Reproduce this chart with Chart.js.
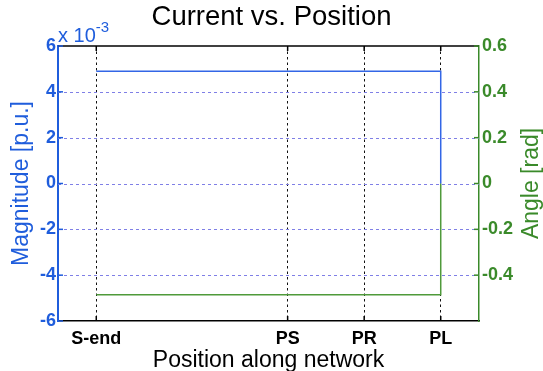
<!DOCTYPE html>
<html>
<head>
<meta charset="utf-8">
<script src="https://cdn.jsdelivr.net/npm/chart.js@4/dist/chart.umd.min.js"></script>
<style>
  html, body { margin: 0; padding: 0; background: #fff; }
  canvas { display: block; }
</style>
</head>
<body>
<canvas id="c" width="543" height="371"></canvas>
<script>
// Positions along the network and their tick labels
const positionNames = ['S-end', 'PS', 'PR', 'PL'];
const positionValues = [0, 2.5, 3.5, 4.5];

// Current magnitude (x 10^-3 p.u.) and angle (rad) at each position
const magnitude = [4.9, 4.9, 4.9, 4.9];
const angle = [-0.485, -0.485, -0.485, -0.485];
// Values just past the load end
const magnitudeBeyond = 0;
const angleBeyond = 0;

// Axis tick values
const magnitudeTicks = [6, 4, 2, 0, -2, -4, -6];
const angleTicks = [0.6, 0.4, 0.2, 0, -0.2, -0.4];

const BLUE = '#1f5ddc';
const GREEN = '#3a8a2a';
const LINE_BLUE = '#3366e6';
const LINE_GREEN = '#4f9a3a';
const GRID_BLUE = '#7f7fe6';
const FONT = '"Liberation Sans", Arial, Helvetica, sans-serif';

Chart.defaults.font.family = FONT;

function stepSeries(values, beyond) {
  const pts = positionValues.map((x, i) => ({ x: x, y: values[i] }));
  pts.push({ x: positionValues[positionValues.length - 1], y: beyond });
  return pts;
}

const tickFont = { size: 18, weight: 'bold' };

// Horizontal dashed grid from the magnitude axis ticks
const hGridPlugin = {
  id: 'hgrid',
  beforeDatasetsDraw(chart) {
    const { ctx, chartArea: a, scales } = chart;
    ctx.save();
    ctx.strokeStyle = GRID_BLUE;
    ctx.lineWidth = 1;
    ctx.setLineDash([3, 3]);
    scales.y.ticks.forEach(t => {
      if (t.value <= scales.y.min || t.value >= scales.y.max) return;
      const py = Math.round(scales.y.getPixelForValue(t.value)) + 0.5;
      ctx.beginPath();
      ctx.moveTo(a.left, py);
      ctx.lineTo(a.right, py);
      ctx.stroke();
    });
    ctx.restore();
  }
};

// Inner tick marks, top frame line, exponent note and right axis title
const framePlugin = {
  id: 'frame',
  afterDatasetsDraw(chart) {
    const { ctx, chartArea: a, scales } = chart;
    ctx.save();
    // top frame
    ctx.strokeStyle = '#000';
    ctx.lineWidth = 1.5;
    ctx.beginPath();
    ctx.moveTo(a.left, a.top);
    ctx.lineTo(a.right, a.top);
    ctx.stroke();
    // x tick marks, top and bottom
    scales.x.ticks.forEach(t => {
      const px = scales.x.getPixelForValue(t.value);
      ctx.beginPath();
      ctx.moveTo(px, a.top); ctx.lineTo(px, a.top + 5);
      ctx.moveTo(px, a.bottom); ctx.lineTo(px, a.bottom - 5);
      ctx.stroke();
    });
    // left ticks
    ctx.strokeStyle = BLUE;
    scales.y.ticks.forEach(t => {
      const py = scales.y.getPixelForValue(t.value);
      ctx.beginPath();
      ctx.moveTo(a.left, py); ctx.lineTo(a.left + 5, py);
      ctx.stroke();
    });
    // right ticks
    ctx.strokeStyle = GREEN;
    scales.y1.ticks.forEach(t => {
      const py = scales.y1.getPixelForValue(t.value);
      ctx.beginPath();
      ctx.moveTo(a.right, py); ctx.lineTo(a.right - 5, py);
      ctx.stroke();
    });
    // exponent note above the left axis
    ctx.fillStyle = BLUE;
    ctx.textBaseline = 'alphabetic';
    ctx.textAlign = 'left';
    ctx.font = '20px ' + FONT;
    const base = 'x 10';
    ctx.fillText(base, a.left, a.top - 4);
    const w = ctx.measureText(base).width;
    ctx.font = '15px ' + FONT;
    ctx.fillText('-3', a.left + w, a.top - 14);
    // right axis title, reading upwards
    ctx.fillStyle = GREEN;
    ctx.font = '23px ' + FONT;
    ctx.textAlign = 'center';
    ctx.textBaseline = 'middle';
    ctx.translate(chart.width - 11.5, (a.top + a.bottom) / 2);
    ctx.rotate(-Math.PI / 2);
    ctx.fillText('Angle [rad]', 0, 0);
    ctx.restore();
  }
};

new Chart(document.getElementById('c'), {
  type: 'line',
  data: {
    datasets: [
      {
        label: 'Magnitude',
        data: stepSeries(magnitude, magnitudeBeyond),
        yAxisID: 'y',
        borderColor: LINE_BLUE,
        borderWidth: 1.5,
        pointRadius: 0,
        fill: false,
        tension: 0
      },
      {
        label: 'Angle',
        data: stepSeries(angle, angleBeyond),
        yAxisID: 'y1',
        borderColor: LINE_GREEN,
        borderWidth: 1.5,
        pointRadius: 0,
        fill: false,
        tension: 0
      }
    ]
  },
  options: {
    responsive: false,
    animation: false,
    devicePixelRatio: 1,
    layout: { padding: 0 },
    plugins: {
      legend: { display: false },
      tooltip: { enabled: false },
      title: {
        display: true,
        text: 'Current vs. Position',
        color: '#000',
        font: { size: 27.5, weight: 'normal', lineHeight: 1.2 },
        padding: { top: 1, bottom: 12 }
      }
    },
    scales: {
      x: {
        type: 'linear',
        min: -0.5,
        max: 5,
        afterBuildTicks: s => { s.ticks = positionValues.map(v => ({ value: v })); },
        afterFit: s => { s.height = 50; },
        ticks: {
          autoSkip: false,
          maxRotation: 0,
          color: '#000',
          font: tickFont,
          padding: 7,
          callback: (v, i) => positionNames[i]
        },
        grid: { color: '#111', lineWidth: 1, drawTicks: false },
        border: { display: true, color: '#000', width: 1.5, dash: [2.5, 3] },
        title: {
          display: true,
          text: 'Position along network',
          color: '#000',
          font: { size: 23, lineHeight: 0.9 },
          padding: 0
        }
      },
      y: {
        position: 'left',
        min: -6,
        max: 6,
        afterBuildTicks: s => { s.ticks = magnitudeTicks.map(v => ({ value: v })); },
        afterFit: s => { s.width = 58; },
        ticks: { color: BLUE, font: tickFont, padding: 2, callback: v => String(v) },
        grid: { drawOnChartArea: false, drawTicks: false },
        border: { display: true, color: BLUE, width: 2 },
        title: {
          display: true,
          text: 'Magnitude [p.u.]',
          color: BLUE,
          font: { size: 23, lineHeight: 1 },
          padding: { top: 10, bottom: 0 }
        }
      },
      y1: {
        position: 'right',
        min: -0.6,
        max: 0.6,
        afterBuildTicks: s => { s.ticks = angleTicks.map(v => ({ value: v })); },
        afterFit: s => { s.width = 64; },
        ticks: {
          color: GREEN,
          font: tickFont,
          padding: 3,
          callback: v => String(Math.round(v * 10) / 10)
        },
        grid: { display: false, drawTicks: false },
        border: { display: true, color: GREEN, width: 1.5 },
        title: { display: false }
      }
    }
  },
  plugins: [hGridPlugin, framePlugin]
});
</script>
</body>
</html>
